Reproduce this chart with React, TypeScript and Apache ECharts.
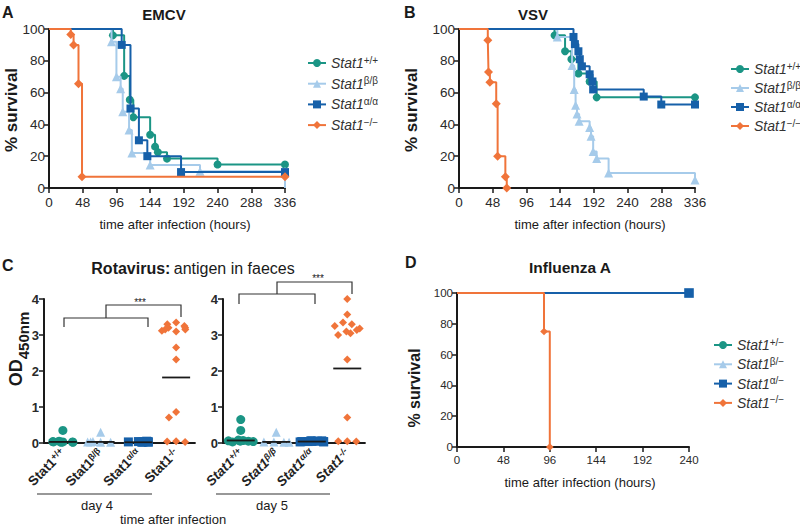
import React, { useEffect, useRef } from 'react';
import * as echarts from 'echarts';

const FONT = '"Liberation Sans", Arial, Helvetica, sans-serif';
const TEAL = '#1b9585';
const LIGHT = '#a6cbea';
const BLUE = '#1660a9';
const ORANGE = '#f0743a';
const INK = '#1a1a1a';

// ---- legend / category names ----
const supsAB = ['+/+', 'β/β', 'α/α', '−/−'];
const supsD = ['+/−', 'β/−', 'α/−', '−/−'];
const catsC = ['Stat1+/+', 'Stat1β/β', 'Stat1α/α', 'Stat1-/-'];

// ---- tick settings ----
const ticksAB = { min: 0, max: 336, interval: 48 };
const ticksD = { min: 0, max: 240, interval: 48 };
const ticksSurv = { min: 0, max: 100, interval: 20 };
const ticksOD = { min: 0, max: 4, interval: 1 };

// ---- A: EMCV survival (hours, %) ----
const emcvWT = [[0, 100], [91, 96], [107, 70.5], [115, 55.5], [120, 44.5], [144, 33.5], [151, 26], [155, 22.5], [168, 18.5], [240, 14.8], [336, 14.8]];
const emcvBeta = [[0, 100], [89, 92], [96, 70], [102, 62.5], [105, 48], [114, 36.5], [118, 22], [144, 14.5], [215, 10.5], [336, 10.5], [336, 0]];
const emcvAlpha = [[0, 100], [103.5, 90], [116, 50], [128, 30], [140, 20], [188, 10], [336, 10]];
const emcvKO = [[0, 100], [31, 96.5], [35, 90], [42, 65.5], [47, 7], [336, 7]];

// ---- B: VSV survival ----
const vsvWT = [[0, 100], [136, 96], [151, 86], [160, 81], [170, 72], [186, 67], [196, 57], [336, 57]];
const vsvBeta = [[0, 100], [140, 95], [161, 77], [164, 62], [166, 52], [168, 46.5], [171, 42], [186, 38], [188, 32.5], [191, 23], [196, 18.5], [213, 9.5], [336, 5]];
const vsvAlpha = [[0, 100], [163, 95], [165, 90.5], [170, 86], [172, 81], [175, 76.5], [186, 71.5], [190, 67], [191, 62], [263, 57.5], [288, 52.5], [336, 52.5]];
const vsvKO = [[0, 100], [41, 93], [42, 73], [44, 66.5], [53, 53], [55, 20], [66, 7], [68, 0]];

// ---- C: rotavirus antigen, OD450nm ----
const d4WT = [0.35, 0.03, 0.02, 0.04, 0.03, 0.02, 0.05, 0.03];
const d4Beta = [0.3, 0.02, 0.03, 0.02, 0.04, 0.03];
const d4Alpha = [0.04, 0.03, 0.02, 0.05, 0.03, 0.04, 0.02];
const d4KO = [3.35, 3.3, 3.25, 3.2, 3.15, 3.15, 3.12, 3.2, 3.1, 2.65, 2.32, 0.86, 0.71, 0.05, 0.04, 0.03];
const d4Mean = [0.03, 0.03, 0.02, 1.82];
const d5WT = [0.65, 0.35, 0.08, 0.05, 0.06, 0.04, 0.07, 0.05, 0.03];
const d5Beta = [0.3, 0.03, 0.02, 0.03, 0.02];
const d5Alpha = [0.05, 0.04, 0.06, 0.03, 0.05, 0.04, 0.05, 0.06, 0.03, 0.04];
const d5KO = [4.0, 3.57, 3.35, 3.3, 3.25, 3.18, 3.14, 3.1, 3.05, 3.0, 2.32, 0.71, 0.05, 0.05, 0.04];
const d5Mean = [0.07, 0.03, 0.04, 2.07];

// ---- D: influenza A survival ----
const fluWT = [[0, 100], [240, 100]];
const fluBeta = [[0, 100], [240, 100]];
const fluAlpha = [[0, 100], [240, 100]];
const fluKO = [[0, 100], [90, 75], [96, 0]];

const COLORS = [TEAL, LIGHT, BLUE, ORANGE];
const SYMBOLS = ['circle', 'triangle', 'rect', 'diamond'];
const SIZES = [8, 9, 8, 9];

function survSeries(name: string, idx: number, pts: number[][], axis: number, scale = 1) {
  return {
    type: 'line',
    name,
    xAxisIndex: axis,
    yAxisIndex: axis,
    step: 'end',
    symbol: SYMBOLS[idx],
    symbolSize: SIZES[idx] * scale,
    showAllSymbol: true,
    data: pts.map((p, i) =>
      i === 0 || (i > 0 && pts[i - 1][0] === p[0]) ? { value: p, symbol: 'none' } : { value: p }
    ),
    lineStyle: { color: COLORS[idx], width: 2 },
    itemStyle: { color: COLORS[idx] },
    emphasis: { disabled: true },
    z: 3 + idx,
  };
}

function dotSeries(idx: number, vals: number[], axis: number) {
  return {
    type: 'scatter',
    name: 'C' + axis + '-' + idx,
    xAxisIndex: axis,
    yAxisIndex: axis,
    symbol: SYMBOLS[idx],
    symbolSize: idx === 3 ? 8 : 9,
    data: vals.map((v) => [catsC[idx], v]),
    itemStyle: { color: COLORS[idx], opacity: 1 },
    emphasis: { disabled: true },
    z: 3,
  };
}

function meanSeries(vals: number[], axis: number) {
  return {
    type: 'line',
    name: 'mean' + axis,
    xAxisIndex: axis,
    yAxisIndex: axis,
    symbol: 'rect',
    symbolSize: [28, 1.8],
    showAllSymbol: true,
    data: vals.map((v, i) => [catsC[i], v]),
    lineStyle: { opacity: 0 },
    itemStyle: { color: INK },
    emphasis: { disabled: true },
    z: 5,
  };
}

const axisLineStyle = { show: true, lineStyle: { color: INK, width: 2 } };
const axisTickStyle = { show: true, length: 5, lineStyle: { color: INK, width: 1.5 } };

function valueAxis(grid: number, t: { min: number; max: number; interval: number }, fontSize: number, margin: number, bold = false) {
  return {
    type: 'value',
    gridIndex: grid,
    min: t.min,
    max: t.max,
    interval: t.interval,
    axisLine: axisLineStyle,
    axisTick: axisTickStyle,
    splitLine: { show: false },
    axisLabel: { color: '#2a2a2a', fontSize, fontFamily: FONT, margin, fontWeight: bold ? 'bold' : 'normal' },
  };
}

function catAxis(grid: number, italic: boolean) {
  return {
    type: 'category',
    gridIndex: grid,
    data: catsC,
    jitter: 30,
    jitterOverlap: false,
    jitterMargin: 1,
    axisLine: { show: true, lineStyle: { color: INK, width: 1.8 } },
    axisTick: { show: false },
    splitLine: { show: false },
    axisLabel: {
      rotate: 45,
      margin: 8,
      interval: 0,
      formatter: (v: string) => `{b|Stat1}{s|${v.slice(5)}}`,
      rich: {
        b: { fontWeight: 'bold', fontSize: 13.5, fontFamily: FONT, color: '#222', fontStyle: italic ? 'italic' : 'normal' },
        s: { fontWeight: 'bold', fontSize: 9, fontFamily: FONT, color: '#222', verticalAlign: 'top', fontStyle: italic ? 'italic' : 'normal' },
      },
    },
  };
}

function legend(left: number, top: number, sups: string[], gap: number, fontSize: number) {
  return {
    orient: 'vertical',
    left,
    top,
    itemWidth: 18,
    itemHeight: 10,
    itemGap: gap,
    selectedMode: false,
    data: sups.map((s) => 'Stat1' + s),
    formatter: (name: string) => `{it|Stat1}{sup|${name.slice(5)}}`,
    textStyle: {
      lineHeight: 16,
      rich: {
        it: { fontStyle: 'italic', fontSize, fontFamily: FONT, color: '#333', lineHeight: 16 },
        sup: { fontSize: fontSize - 4, fontFamily: FONT, color: '#333', verticalAlign: 'top', lineHeight: 16 },
      },
    },
  };
}

function txt(x: number, y: number, text: string, size: number, bold: boolean, align = 'center', rot = 0) {
  return {
    type: 'text',
    x,
    y,
    rotation: rot,
    style: {
      text,
      fill: '#1a1a1a',
      fontSize: size,
      fontWeight: bold ? 'bold' : 'normal',
      fontFamily: FONT,
      align,
      verticalAlign: 'middle',
    },
  };
}

function pl(points: number[][]) {
  return { type: 'polyline', shape: { points }, style: { stroke: '#333', lineWidth: 1.2, fill: null } };
}

export default function App() {
  const ref = useRef<HTMLDivElement>(null);
  useEffect(() => {
    document.body.style.margin = '0';
    const chart = echarts.init(ref.current!, null, { renderer: 'svg' });
    const names = supsAB.map((s) => 'Stat1' + s);
    const namesD = supsD.map((s) => 'Stat1' + s);
    const option = {
      animation: false,
      backgroundColor: '#ffffff',
      grid: [
        { left: 49, top: 29, width: 236, height: 159 },
        { left: 459, top: 29, width: 236, height: 159 },
        { left: 44, top: 299, width: 151, height: 144 },
        { left: 223, top: 299, width: 142, height: 144 },
        { left: 457, top: 293, width: 232, height: 154 },
      ],
      xAxis: [
        valueAxis(0, ticksAB, 13.5, 7),
        valueAxis(1, ticksAB, 13.5, 7),
        catAxis(2, false),
        catAxis(3, true),
        valueAxis(4, ticksD, 11.5, 7),
      ],
      yAxis: [
        valueAxis(0, ticksSurv, 13.5, 4),
        valueAxis(1, ticksSurv, 13.5, 4),
        valueAxis(2, ticksOD, 13, 5, true),
        valueAxis(3, ticksOD, 13, 5, true),
        valueAxis(4, ticksSurv, 11.5, 4),
      ],
      legend: [
        legend(302, 50, supsAB, 4.7, 14),
        legend(725, 56, supsAB, 3, 14),
        legend(708, 332, supsD, 3.3, 14),
      ],
      series: [
        survSeries(names[0], 0, emcvWT, 0),
        survSeries(names[1], 1, emcvBeta, 0),
        survSeries(names[2], 2, emcvAlpha, 0),
        survSeries(names[3], 3, emcvKO, 0),
        survSeries(names[0], 0, vsvWT, 1),
        survSeries(names[1], 1, vsvBeta, 1),
        survSeries(names[2], 2, vsvAlpha, 1),
        survSeries(names[3], 3, vsvKO, 1),
        dotSeries(0, d4WT, 2),
        dotSeries(1, d4Beta, 2),
        dotSeries(2, d4Alpha, 2),
        dotSeries(3, d4KO, 2),
        meanSeries(d4Mean, 2),
        dotSeries(0, d5WT, 3),
        dotSeries(1, d5Beta, 3),
        dotSeries(2, d5Alpha, 3),
        dotSeries(3, d5KO, 3),
        meanSeries(d5Mean, 3),
        survSeries(namesD[0], 0, fluWT, 4),
        survSeries(namesD[1], 1, fluBeta, 4),
        survSeries(namesD[2], 2, fluAlpha, 4, 1.2),
        survSeries(namesD[3], 3, fluKO, 4, 0.85),
      ],
      graphic: [
        txt(2, 12, 'A', 16, true, 'left'),
        txt(164, 14, 'EMCV', 15, true),
        txt(11, 110, '% survival', 17, true, 'center', Math.PI / 2),
        txt(175, 224, 'time after infection (hours)', 13, false),
        txt(404, 12, 'B', 16, true, 'left'),
        txt(533, 14, 'VSV', 15, true),
        txt(411, 110, '% survival', 17, true, 'center', Math.PI / 2),
        txt(590, 224, 'time after infection (hours)', 13, false),
        txt(2, 265, 'C', 16, true, 'left'),
        {
          type: 'text',
          x: 193,
          y: 268,
          style: {
            text: '{b|Rotavirus:} {r|antigen in faeces}',
            align: 'center',
            verticalAlign: 'middle',
            rich: {
              b: { fontSize: 16, fontWeight: 'bold', fontFamily: FONT, fill: '#1a1a1a' },
              r: { fontSize: 16, fontFamily: FONT, fill: '#1a1a1a' },
            },
          },
        },
        {
          type: 'text',
          x: 19,
          y: 349,
          rotation: Math.PI / 2,
          style: {
            text: '{a|OD}{s|450nm}',
            align: 'center',
            verticalAlign: 'middle',
            rich: {
              a: { fontSize: 18, fontWeight: 'bold', fontFamily: FONT, fill: '#1a1a1a', lineHeight: 24, verticalAlign: 'top' },
              s: { fontSize: 15, fontWeight: 'bold', fontFamily: FONT, fill: '#1a1a1a', lineHeight: 24, verticalAlign: 'bottom' },
            },
          },
        },
        pl([[64, 327], [64, 318], [148, 318], [148, 327]]),
        pl([[106, 318], [106, 305], [181, 305], [181, 317]]),
        txt(140, 302, '***', 10, false),
        pl([[239, 304], [239, 294], [315, 294], [315, 304]]),
        pl([[277, 294], [277, 282], [352, 282], [352, 294]]),
        txt(318, 278, '***', 10, false),
        { type: 'line', shape: { x1: 37, y1: 494, x2: 152, y2: 494 }, style: { stroke: '#333', lineWidth: 1.2 } },
        { type: 'line', shape: { x1: 216, y1: 494, x2: 330, y2: 494 }, style: { stroke: '#333', lineWidth: 1.2 } },
        txt(97, 505, 'day 4', 13, false),
        txt(272, 505, 'day 5', 13, false),
        txt(173, 519, 'time after infection', 13, false),
        txt(405, 262, 'D', 16, true, 'left'),
        txt(570, 267, 'Influenza A', 15.5, true),
        txt(414, 388, '% survival', 16, true, 'center', Math.PI / 2),
        txt(580, 482, 'time after infection (hours)', 13, false),
      ],
    };
    chart.setOption(option as any);
    return () => chart.dispose();
  }, []);
  return <div ref={ref} style={{ position: 'absolute', left: 0, top: 0, width: 800, height: 528 }} />;
}
